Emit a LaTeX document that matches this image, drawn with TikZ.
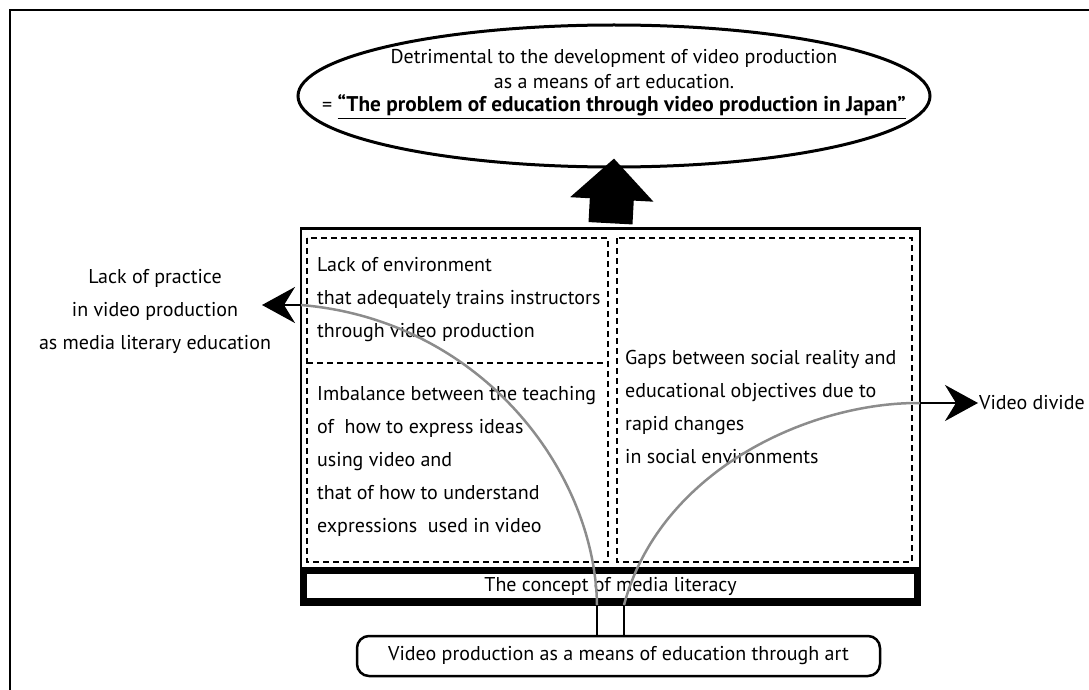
\documentclass[tikz,border=0pt]{standalone}
\usepackage{fontspec}
\setmainfont{PT Sans}
\usepackage{tikz}
\usetikzlibrary{calc}
\usetikzlibrary{arrows.meta}
\usetikzlibrary{shapes.geometric}
\tikzstyle{every node}=[font=\fontsize{20}{33}\selectfont, inner sep=0pt]
\tikzstyle{dashbox}=[line width=2.6pt, dash pattern=on 6pt off 4pt]
\tikzstyle{link}=[line width=2.5pt, draw=black!45]
\tikzstyle{tip}=[line width=2.5pt, -{Stealth[length=33pt, width=36pt, inset=11pt]}]

\begin{document}
\begin{tikzpicture}[x=1pt, y=-1pt]
        \useasboundingbox (0,0) rectangle (1089,690);
        \draw [line width=2pt] (10,690) -- (10,10) -- (1089,10);

        \node [draw, ellipse, line width=3pt, minimum width=632pt, minimum height=142pt] (goal) at (614,96) {};
        \node [align=center] (goaltext) at (614,84) {Detrimental to the development of video production\\[-8pt]
            as a means of art education.\\[-10pt]
            = {\fontsize{21.3}{33}\selectfont\textbf{\underline{``The problem of education through video production in Japan''}}}};

        \node [draw, line width=2.5pt, minimum width=619pt, minimum height=376pt] (frame) at (610.5,416.5) {};
        \draw [dashbox] (307,238) rectangle (608,562);
        \draw [dashbox] (307,363) -- (608,363);
        \draw [dashbox] (617,238) rectangle (912,562);

        \node [anchor=west, align=left] (trainbox) at (317,300) {Lack of environment\\that adequately trains instructors\\through video production};
        \node [anchor=west, align=left] (balancebox) at (317,461) {Imbalance between the teaching\\of~ how to express ideas\\using video and\\that of how to understand\\expressions~ used in video};
        \node [anchor=west, align=left] (gapbox) at (625,407) {Gaps between social reality and\\educational objectives due to\\rapid changes\\in social environments};

        \node [draw, line width=7pt, minimum width=614pt, minimum height=31pt] (concept) at (610.5,586) {The concept of media literacy};
        \node [draw, line width=2.5pt, rounded corners=12pt, minimum width=523pt, minimum height=40pt] (base) at (618.5,656) {Video production as a means of education through art};

        \node [align=center] (practice) at (155,311) {Lack of practice\\in video production\\as media literary education};
        \node [anchor=west] (divide) at (979,403) {Video divide};

        \draw [line width=44pt, -{Triangle[length=41pt, width=81pt]}] ($(frame.north)+(0,-4)$) -- ($(goal.south)+(0,-10)$);

        \coordinate (lfoot) at (597,605);
        \coordinate (rfoot) at (624,605);
        \coordinate (lend) at (301,305);
        \coordinate (rend) at (920,403);
        \coordinate (ltip) at (262,305);
        \coordinate (rtip) at (978,403);
        \draw [line width=2.5pt] (lfoot) -- (lfoot |- base.north);
        \draw [line width=2.5pt] (rfoot) -- (rfoot |- base.north);
        \draw [link] (lfoot) .. controls (595,470) and (480,320) .. (lend);
        \draw [link] (rfoot) .. controls (660,470) and (810,402) .. (rend);
        \draw [tip] (lend) -- (ltip);
        \draw [tip] (rend) -- (rtip);
    \end{tikzpicture}
\end{document}
